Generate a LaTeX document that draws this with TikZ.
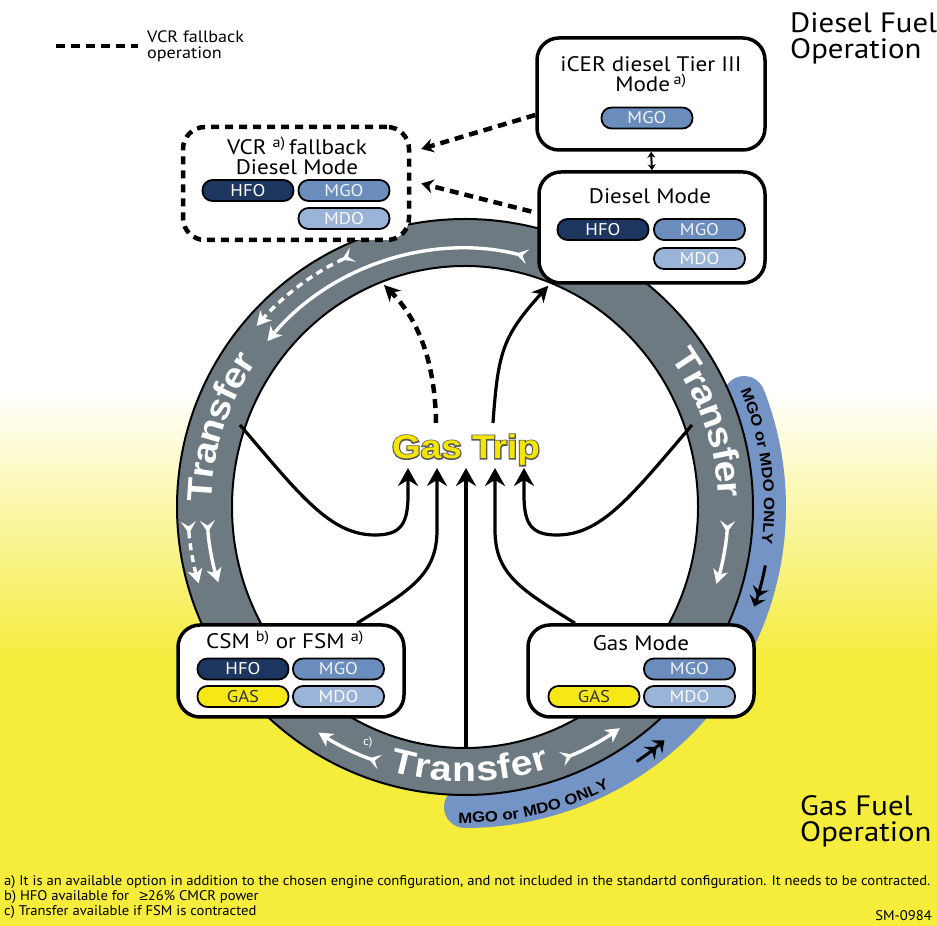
\documentclass[tikz,border=0pt]{standalone}
\usepackage{fontspec}
\setmainfont{PT Sans}[FakeStretch=1.1]
\newfontfamily\heavyfont{Liberation Sans}[FakeStretch=1.12]
\newfontfamily\outlinefont{Liberation Sans}[FakeStretch=1.12, BoldFeatures={FakeBold=7}]
\newfontfamily\condfont{PT Sans}[FakeStretch=1.045]
\usetikzlibrary{arrows.meta,decorations.text}
\definecolor{ringgray}{HTML}{6D7A82}
\definecolor{bandblue}{HTML}{7394C4}
\definecolor{bgyellow}{HTML}{F5EC3C}
\definecolor{hfo}{HTML}{1C365F}
\definecolor{mgo}{HTML}{6B8DBE}
\definecolor{mdo}{HTML}{9AB4D7}
\definecolor{gasy}{HTML}{F6E716}
\definecolor{tripyellow}{HTML}{F5E600}
\newcommand\transferfont{\heavyfont\bfseries\fontsize{35}{35}\selectfont\color{white}}
\newcommand\bandfont{\heavyfont\bfseries\fontsize{15}{15}\selectfont\color{black}}
\tikzset{
  modebox/.style={draw=black, line width=3.5pt, fill=white, rounded corners=22pt, inner sep=0pt},
  vcrbox/.style={draw=black, line width=4.5pt, fill=white, rounded corners=22pt, dash pattern=on 8pt off 6pt, inner sep=0pt},
  pill/.style={draw=black, line width=1.8pt, rounded corners=10pt, minimum width=91pt, minimum height=21pt, inner sep=0pt, font=\fontsize{17}{17}\selectfont},
  hfopill/.style={pill, fill=hfo, text=white},
  mgopill/.style={pill, fill=mgo, text=white!88!mgo},
  mdopill/.style={pill, fill=mdo, text=white!92!mdo},
  gaspill/.style={pill, fill=gasy, text=black!80},
  boxtitle/.style={font=\fontsize{21}{20}\selectfont, align=center, inner sep=0pt},
  triparrow/.style={line width=3.2pt, -{Stealth[length=18pt,width=20pt,inset=6pt]}},
  vcrdash/.style={line width=4.5pt, dash pattern=on 9pt off 6pt},
  ringarrow/.style={white, line width=3.4pt, {Stealth[reversed,length=12pt,width=15pt,inset=5pt]}-{Stealth[length=14pt,width=15pt,inset=4pt]}},
  ringdash/.style={ringarrow, dash pattern=on 7pt off 5pt},
  chevron/.style={black, line width=3pt, -{Stealth[length=10pt,width=17pt,inset=3.5pt]Stealth[length=10pt,width=17pt,inset=3.5pt]}},
  tripstyle/.style={font=\heavyfont\bfseries\fontsize{33}{33}\selectfont, inner sep=0pt},
  tripoutline/.style={font=\outlinefont\bfseries\fontsize{33}{33}\selectfont, inner sep=0pt},
}
\begin{document}
\begin{tikzpicture}[x=1pt,y=1pt]
\useasboundingbox (0,0) rectangle (937,926);
% background
\fill[white] (0,536) rectangle (937,926);
\shade[top color=white, bottom color=bgyellow] (0,266) rectangle (937,536.5);
\fill[bgyellow] (0,0) rectangle (937,266.5);

% ring
\begin{scope}[shift={(465,419)}]
  \draw[bandblue, line width=42pt, line cap=round] (21.5:300) arc[start angle=21.5, end angle=-90, radius=300];
  \fill[ringgray] (0,0) circle[radius=288];
  \fill[white] (0,0) ellipse[x radius=233, y radius=241];
  \draw[black, line width=2pt] (0,0) circle[radius=288];
  \draw[black, line width=2pt] (0,0) ellipse[x radius=233, y radius=241];
  % band texts
  \path[decorate, decoration={text along path, text align=center, text={|\bandfont|MGO or MDO ONLY}}]
     (45:299) arc[start angle=45, end angle=-29, radius=299];
  \path[decorate, decoration={text along path, text align=center, text={|\bandfont|MGO or MDO ONLY}}]
     (-110:316) arc[start angle=-110, end angle=-44, radius=316];
  \draw[chevron] (-11:306) arc[start angle=-11, end angle=-19, radius=306];
  \draw[chevron] (-56:307) arc[start angle=-56, end angle=-49.5, radius=307];
  % transfer texts
  \path[decorate, decoration={text along path, text align=center, raise=-12.5pt, text={|\transferfont|Transfer}}]
     (200:266) arc[start angle=200, end angle=124, radius=266];
  \path[decorate, decoration={text along path, text align=center, raise=-12.5pt, text={|\transferfont|Transfer}}]
     (57:266) arc[start angle=57, end angle=-19, radius=266];
  \path[decorate, decoration={text along path, text align=center, raise=-12.5pt, text={|\transferfont|Transfer}}]
     (-127:262) arc[start angle=-127, end angle=-51, radius=262];
  % white arrows in ring
  \draw[ringarrow] (76:258) arc[start angle=76, end angle=140, radius=258];
  \draw[ringdash] (114:276) arc[start angle=114, end angle=139, radius=276];
  \draw[ringdash] (183:277) arc[start angle=183, end angle=196, radius=277];
  \draw[ringarrow] (183:258) arc[start angle=183, end angle=197, radius=258];
  \draw[ringarrow] (-3:263) arc[start angle=-3, end angle=-17, radius=263];
  \draw[ringarrow] (251.5:269) arc[start angle=251.5, end angle=237, radius=269];
  \draw[ringarrow] (-69:270) arc[start angle=-69, end angle=-55, radius=270];
  \node[text=white, font=\fontsize{12}{12}\selectfont, inner sep=0pt] (cnote) at (247.6:255) {c)};
\end{scope}

% boxes
\node[modebox, minimum width=228pt, minimum height=112pt] (icer) at (651,832) {};
\node[modebox, minimum width=226pt, minimum height=111pt] (diesel) at (652,698.5) {};
\node[vcrbox, minimum width=226pt, minimum height=113pt] (vcr) at (296,742.5) {};
\node[modebox, minimum width=226pt, minimum height=92pt] (csm) at (291,255) {};
\node[modebox, minimum width=226pt, minimum height=92pt] (gasmode) at (641,255) {};

\node[boxtitle] (icert) at (651,851.5) {iCER diesel Tier III\\Mode\,\textsuperscript{a)}};
\node[mgopill] (icermgo) at (647,808) {MGO};

\node[boxtitle] (dieselt) at (650,730) {Diesel Mode};
\node[hfopill] (dhfo) at (603,696.5) {HFO};
\node[mgopill] (dmgo) at (699.5,696.5) {MGO};
\node[mdopill] (dmdo) at (699.5,667.5) {MDO};

\node[boxtitle] (vcrt) at (297,770) {VCR \textsuperscript{a)}\,fallback\\Diesel Mode};
\node[hfopill] (vhfo) at (248,735.5) {HFO};
\node[mgopill] (vmgo) at (344,735.5) {MGO};
\node[mdopill] (vmdo) at (344,707.5) {MDO};

\node[boxtitle] (csmt) at (285,286) {CSM \textsuperscript{b)} or FSM \textsuperscript{a)}};
\node[hfopill] (chfo) at (243,257) {HFO};
\node[mgopill] (cmgo) at (338.5,257) {MGO};
\node[gaspill] (cgas) at (243,229.5) {GAS};
\node[mdopill] (cmdo) at (338.5,229.5) {MDO};

\node[boxtitle] (gast) at (641,283) {Gas Mode};
\node[mgopill] (gmgo) at (689.5,257) {MGO};
\node[gaspill] (ggas) at (594,229.5) {GAS};
\node[mdopill] (gmdo) at (689.5,229.5) {MDO};

% connectors between boxes
\draw[line width=2pt, {Stealth[length=6pt,width=8pt]}-{Stealth[length=6pt,width=8pt]}] (icer.south) -- (diesel.north);
\draw[vcrdash, -{Stealth[length=12pt,width=14pt]}] ([yshift=-21pt]icer.west) -- ([shift={(10pt,34.5pt)}]vcr.east);
\draw[vcrdash, -{Stealth[length=12pt,width=14pt]}] ([shift={(-6pt,16pt)}]diesel.west) -- ([xshift=10pt]vcr.east);

% gas trip
\coordinate (tripc) at (466,476);
\node[tripoutline, text=black!65] (tripo) at (tripc) {Gas Trip};
\node[tripstyle, text=tripyellow] (trip) at (tripc) {Gas Trip};

\coordinate (s1) at (240,501);
\coordinate (s3) at (466,178);
\coordinate (s5) at (692,501);
\coordinate (t1) at (408,458);
\coordinate (t2) at (437,458);
\coordinate (t3) at (466,458);
\coordinate (t4) at (495,458);
\coordinate (t5) at (524,458);
\draw[triparrow] (s1) .. controls (300,431) and (330,391) .. (375,391) .. controls (400,391) and (408,401) .. (408,431) -- (t1);
\draw[triparrow] ([xshift=66pt]csm.north) .. controls (410,336) and (437,351) .. (437,396) -- (t2);
\draw[triparrow] (s3) -- (t3);
\draw[triparrow] ([xshift=-66pt]gasmode.north) .. controls (522,336) and (495,351) .. (495,396) -- (t4);
\draw[triparrow] (s5) .. controls (632,431) and (602,391) .. (557,391) .. controls (532,391) and (524,401) .. (524,431) -- (t5);

\coordinate (u1) at (436,503);
\coordinate (v1) at (384,641);
\coordinate (u2) at (493,503);
\draw[vcrdash, -{Stealth[length=16pt,width=16pt,inset=5pt]}] (u1) .. controls (435,570) and (415,610) .. (v1);
\draw[line width=3.2pt, -{Stealth[length=16pt,width=16pt,inset=5pt]}] (u2) .. controls (498,575) and (503,590) .. ([shift={(11pt,-1pt)}]diesel.south west);

% legend
\coordinate (legA) at (56,880);
\coordinate (legB) at (138,880);
\draw[vcrdash] (legA) -- (legB);
\node[anchor=west, align=left, inner sep=0pt, font=\fontsize{16.5}{16}\selectfont] (legt) at (147,880) {VCR fallback\\operation};

\node[anchor=west, align=left, inner sep=0pt, font=\fontsize{28}{26}\selectfont] (dfo) at (790,888) {Diesel Fuel\\Operation};
\node[anchor=west, align=left, inner sep=0pt, font=\fontsize{28}{26}\selectfont] (gfo) at (800,105) {Gas Fuel\\Operation};

% footnotes
\node[anchor=west, inner sep=0pt, font=\condfont\fontsize{14}{14}\selectfont] (fna) at (4,44) {a) It is an available option in addition to the chosen engine configuration, and not included in the standartd configuration. It needs to be contracted.};
\node[anchor=west, inner sep=0pt, font=\condfont\fontsize{14}{14}\selectfont] (fnb) at (4,29) {b) HFO available for \ \,{\heavyfont ≥}26\% CMCR power};
\node[anchor=west, inner sep=0pt, font=\condfont\fontsize{14}{14}\selectfont] (fnc) at (4,14) {c) Transfer available if FSM is contracted};
\node[anchor=east, inner sep=0pt, font=\condfont\fontsize{14}{14}\selectfont] (sm) at (932,10) {SM-0984};
\end{tikzpicture}
\end{document}
